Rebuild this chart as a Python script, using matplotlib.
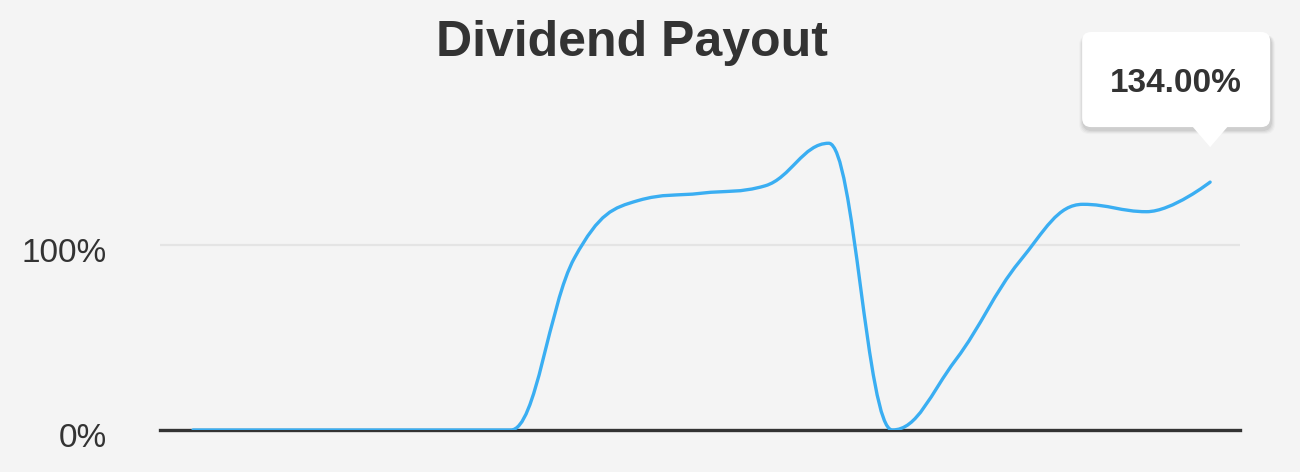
import matplotlib
matplotlib.use("Agg")
import matplotlib.pyplot as plt
from matplotlib.path import Path
from matplotlib.patches import PathPatch, FancyBboxPatch, Polygon
from matplotlib.transforms import IdentityTransform, ScaledTranslation

# data (payout ratio, %)
periods = list(range(17))
payout = [0, 0, 0, 0, 0, 0, 93, 124, 128, 132, 155, 0, 38, 91, 122, 118, 134]
yticks = [0, 100]
ytick_labels = ["0%", "100%"]
title = "Dividend Payout"
tooltip_text = "134.00%"

plt.rcParams['font.family'] = ['Liberation Sans', 'DejaVu Sans']
bg = '#f4f4f4'
line_col = '#3aaef2'


def spline_path(xs, ys, smoothing=1.5):
    # highcharts-style bezier spline
    denom = smoothing + 1
    n = len(xs)
    lc = [(xs[0], ys[0])] * n
    rc = [(xs[0], ys[0])] * n
    for i in range(n):
        x, y = xs[i], ys[i]
        if i == 0 or i == n - 1:
            lc[i] = (x, y)
            rc[i] = (x, y)
            continue
        lx, ly = xs[i - 1], ys[i - 1]
        nx, ny = xs[i + 1], ys[i + 1]
        lcx = (smoothing * x + lx) / denom
        lcy = (smoothing * y + ly) / denom
        rcx = (smoothing * x + nx) / denom
        rcy = (smoothing * y + ny) / denom
        corr = (rcy - lcy) * (rcx - x) / (rcx - lcx) + y - rcy
        lcy += corr
        rcy += corr
        if lcy > ly and lcy > y:
            lcy = max(ly, y)
            rcy = 2 * y - lcy
        elif lcy < ly and lcy < y:
            lcy = min(ly, y)
            rcy = 2 * y - lcy
        if rcy > ny and rcy > y:
            rcy = max(ny, y)
            lcy = 2 * y - rcy
        elif rcy < ny and rcy < y:
            rcy = min(ny, y)
            lcy = 2 * y - rcy
        lc[i] = (lcx, lcy)
        rc[i] = (rcx, rcy)
    verts = [(xs[0], ys[0])]
    codes = [Path.MOVETO]
    for i in range(1, n):
        verts += [rc[i - 1], lc[i], (xs[i], ys[i])]
        codes += [Path.CURVE4] * 3
    return Path(verts, codes)


fig = plt.figure(figsize=(13, 4.72), dpi=100, facecolor=bg)
ax = fig.add_axes([160 / 1300, 42 / 472, 1080 / 1300, 370 / 472])
ax.set_facecolor(bg)
ax.set_xlim(-0.52, 16.47)
ax.set_ylim(0, 200)

ax.axhline(100, color='#e4e4e4', lw=1.6, zorder=1)
ax.axhline(0, color='#333333', lw=2.4, zorder=3, clip_on=False)

ax.add_patch(PathPatch(spline_path(periods, payout), fill=False,
                       edgecolor=line_col, lw=2.4, zorder=4,
                       capstyle='round', joinstyle='round'))

for s in ax.spines.values():
    s.set_visible(False)
ax.set_xticks([])
ax.set_yticks(yticks)
ax.set_yticklabels(ytick_labels)
ax.tick_params(axis='y', length=0, pad=38, labelsize=24, labelcolor='#333333')
shift = ScaledTranslation(0, -5 / 100, fig.dpi_scale_trans)
for lab in ax.get_yticklabels():
    lab.set_transform(lab.get_transform() + shift)

fig.text(632 / 1300, 1 - 43 / 472, title, ha='center', va='center',
         fontsize=36, fontweight='bold', color='#333333')

# tooltip over the last point
fig.canvas.draw()
px, py = ax.transData.transform((periods[-1], payout[-1]))
H = 472
tip_y = py + 35
box_l, box_r = px - 128, px + 60
box_b, box_t = tip_y + 20, H - 32
for k, a in [(8, 0.025), (6, 0.035), (4, 0.045), (2, 0.06)]:
    ax.add_artist(FancyBboxPatch((box_l + 1 - k / 2, box_b - 3 - k / 2),
                                 box_r - box_l + k, box_t - box_b + k / 2,
                                 boxstyle="round,pad=0,rounding_size=10",
                                 transform=IdentityTransform(), facecolor='black',
                                 edgecolor='none', alpha=a, zorder=5, clip_on=False))
ax.add_artist(FancyBboxPatch((box_l, box_b), box_r - box_l, box_t - box_b,
                             boxstyle="round,pad=0,rounding_size=9",
                             transform=IdentityTransform(), facecolor='white',
                             edgecolor='none', zorder=6, clip_on=False))
ax.add_artist(Polygon([(px - 18, box_b + 1), (px + 18, box_b + 1), (px, tip_y)],
                      closed=True, transform=IdentityTransform(), facecolor='white',
                      edgecolor='none', zorder=6, clip_on=False))
fig.text((box_l + box_r) / 2 / 1300, (box_t + box_b) / 2 / H - 4 / H, tooltip_text,
         ha='center', va='center', fontsize=24, fontweight='bold', color='#333333', zorder=7)

fig.savefig("out.png", dpi=100, facecolor=bg)
